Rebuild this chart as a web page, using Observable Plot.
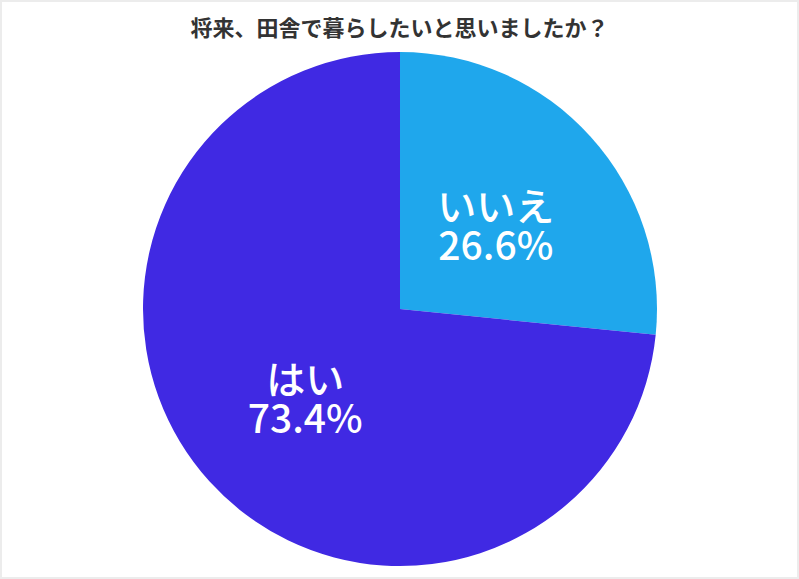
<!DOCTYPE html>
<html>
<head>
<meta charset="utf-8">
<script src="https://cdn.jsdelivr.net/npm/d3@7"></script>
<script src="https://cdn.jsdelivr.net/npm/@observablehq/plot@0.6"></script>
<style>
  html, body { margin: 0; padding: 0; background: #fff; }
  #wrap { position: relative; width: 799px; height: 579px; overflow: hidden; background: #fff; }
  #frame { position: absolute; left: 0; top: 0; right: 0; bottom: 0; border: 2px solid #ececec; pointer-events: none; box-sizing: border-box; }
  #title { box-sizing: border-box; height: 44px; padding-top: 15px; text-align: center;
    font-family: "Noto Sans CJK JP", sans-serif; font-weight: 700; font-size: 22px; line-height: 22px; color: #333; }
  svg { display: block; }
</style>
</head>
<body>
<div id="wrap">
  <div id="title">将来、田舎で暮らしたいと思いましたか？</div>
  <div id="chart"></div>
  <div id="frame"></div>
</div>
<script>
const categories = ["いいえ", "はい"];
const values = [26.6, 73.4];
const colors = ["#1fa7ec", "#4029e3"];

const pieGen = d3.pie().sort(null).value(d => d.value);
const slices = pieGen(categories.map((c, i) => ({category: c, value: values[i]})));
const labelData = slices.map(s => {
  const a = (s.startAngle + s.endAngle) / 2;
  return {x: 0.5 * Math.sin(a), y: 0.5 * Math.cos(a), text: s.data.category + "\n" + s.data.value.toFixed(1) + "%"};
});

function pieMark(data) {
  return (index, scales, values, dims) => {
    const cx = scales.x(0), cy = scales.y(0);
    const r = scales.x(1) - scales.x(0);
    const arc = d3.arc().innerRadius(0).outerRadius(r);
    const g = d3.create("svg:g").attr("transform", `translate(${cx},${cy})`);
    g.selectAll("path").data(data).join("path")
      .attr("d", arc)
      .attr("fill", d => scales.color(d.data.category));
    return g.node();
  };
}

const H = 535;
const chart = Plot.plot({
  width: 799,
  height: H,
  marginLeft: 143,
  marginRight: 142,
  marginTop: 8,
  marginBottom: 13,
  x: {domain: [-1, 1], axis: null},
  y: {domain: [-1, 1], axis: null},
  color: {domain: categories, range: colors},
  style: {background: "transparent"},
  marks: [
    pieMark(slices),
    Plot.text(labelData, {
      x: "x", y: "y", text: "text",
      fill: "white",
      fontSize: 39,
      fontWeight: 500,
      lineHeight: 1.0,
      dy: 5,
      fontFamily: "Noto Sans CJK JP",
      textAnchor: "middle"
    })
  ]
});
document.getElementById("chart").appendChild(chart);
</script>
</body>
</html>
